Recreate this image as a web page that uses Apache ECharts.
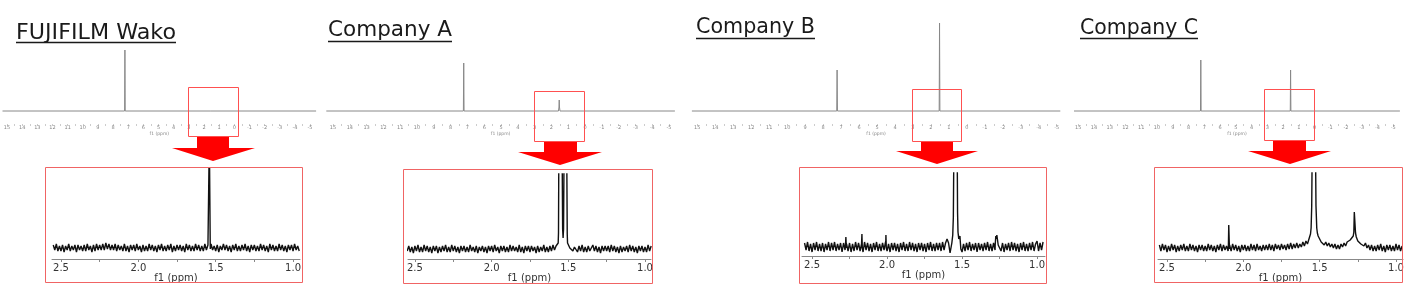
<!DOCTYPE html>
<html>
<head>
<meta charset="utf-8">
<script src="https://cdn.jsdelivr.net/npm/echarts@6/dist/echarts.min.js"></script>
<style>
html,body{margin:0;padding:0;background:#fff;}
#c{width:1409px;height:292px;}
</style>
</head>
<body>
<div id="c"></div>
<script>
// ---------- DATA ----------
const panelTitles = ['FUJIFILM Wako', 'Company A', 'Company B', 'Company C'];
const fullTickLabels = [15,14,13,12,11,10,9,8,7,6,5,4,3,2,1,0,-1,-2,-3,-4,-5];
const zoomTickLabels = [2.5, 2.0, 1.5, 1.0];
const zoomTicks = [2.5, 2.25, 2.0, 1.75, 1.5, 1.25, 1.0];
const axisName = 'f1 (ppm)';

// full spectra (ppm, intensity)
const fullWako = [[15.3,0],[7.24,0],[7.22,61],[7.20,0],[1.55,0],[1.52,1.5],[1.49,0],[-5.4,0]];
const fullA    = [[15.4,0],[7.24,0],[7.22,48],[7.20,0],[1.58,0],[1.55,4],[1.535,11],[1.52,4],[1.49,0],[-5.35,0]];
const fullB    = [[15.3,0],[7.24,0],[7.22,41],[7.20,0],[1.54,0],[1.52,88],[1.50,0],[-5.2,0]];
const fullC    = [[15.27,0],[7.24,0],[7.22,51],[7.20,0],[1.54,0],[1.52,41],[1.50,0],[-5.42,0]];

// expanded region: baseline samples from 2.55 ppm down to 0.96 ppm every 0.01 ppm
// (null = sample replaced by the sharp peak points listed separately)
const zoomStart = 2.55, zoomStep = 0.01;
const wakoBase = [
 3,-2,4,-3,2,-3,3,-4,2,-2,
 4,-3,2,-2,3,-4,3,-2,2,-3,
 3,-3,4,-2,2,-4,3,-3,4,-2,
 3,-2,4,-2,5,-1,4,-2,3,-2,
 4,-3,3,-2,2,-3,4,-3,2,-4,
 3,-2,3,-3,4,-2,2,-4,3,-3,
 2,-3,4,-2,3,-3,2,-4,3,-2,
 4,-3,2,-3,3,-2,4,-4,2,-3,
 3,-2,3,-3,2,-4,4,-2,3,-3,
 2,-3,4,-2,3,-3,2,-3,4,-2,
 3,null,4,-2,2,-3,3,-4,2,-2,
 4,-2,3,-3,2,-4,3,-2,4,-3,
 2,-3,3,-2,4,-3,2,-4,3,-2,
 3,-3,2,-3,4,-2,3,-3,2,-4,
 4,-2,3,-3,2,-3,4,-2,3,-3,
 2,-4,3,-2,3,-3,4,-2,2,-3];
const wakoPeaks = [
 [[1.543,1],[1.541,110],[1.537,110],[1.535,-1]]
];

const aBase = [
 -2,3,-3,2,-4,3,-2,4,-3,2,
 -3,4,-2,3,-3,2,-4,3,-2,3,
 -4,2,-3,3,-2,4,-3,2,-3,4,
 -2,3,-3,2,-4,3,-2,3,-3,2,
 -3,4,-2,2,-3,3,-4,2,-2,3,
 -3,2,-4,3,-2,3,-3,4,-2,2,
 -4,3,-2,3,-3,2,-3,4,-2,3,
 -2,2,-3,4,-3,2,-4,3,-2,3,
 -3,3,-2,2,-4,3,-3,2,-2,4,
 -3,2,-3,3,-2,4,-1,3,5,null,
 null,null,null,null,null,5,1,3,-2,2,
 2,-3,3,-2,4,-3,2,-3,3,-2,
 -3,4,-2,3,-3,2,-4,3,-2,3,
 -2,3,-3,4,-2,3,-3,2,-4,3,
 -3,2,-2,3,-3,4,-2,3,-3,2,
 -4,3,-2,3,-3,2,-3,4,-2,3];
const aPeaks = [
 [[1.566,6],[1.564,16],[1.562,90],[1.540,90],[1.537,20],[1.534,11],[1.531,20],[1.528,90],[1.510,90],[1.507,15],[1.505,6]]
];

const bBase = [
 4,-3,5,-4,3,-5,4,-3,5,-4,
 3,-4,4,-5,3,-3,5,-4,4,-3,
 5,-4,3,-3,4,-5,4,-3,3,-4,
 4,-5,3,-4,5,-3,4,-4,3,-5,
 5,-3,4,-4,3,-5,4,-3,5,-4,
 3,-4,4,-3,5,-4,3,-5,4,-3,
 4,-4,3,-5,4,-3,5,-4,3,-4,
 5,-3,4,-4,3,-5,4,-3,4,-4,
 3,-5,4,-3,5,-4,3,-4,4,-3,
 4,-4,5,-3,4,8,4,-6,-5,null,
 null,null,null,null,null,-5,3,-4,4,-3,
 5,-4,3,-3,4,-5,4,-3,3,-4,
 4,-3,5,-4,3,-4,4,-3,null,null,
 3,-4,4,-5,3,-3,4,-4,5,-3,
 4,-4,3,-5,4,-3,5,-4,3,-4,
 4,-3,5,-4,3,6,-4,4,-3,5];
const bPeaks = [
 [[2.277,1],[2.2745,10],[2.2725,10],[2.271,-1]],
 [[2.169,1],[2.1675,13],[2.1665,13],[2.165,-1]],
 [[2.009,1],[2.0075,12],[2.0065,12],[2.005,-1]],
 [[1.568,4],[1.562,12],[1.558,30],[1.555,90],[1.532,90],[1.530,35],[1.527,15],[1.522,8],[1.517,6],[1.514,11],[1.512,6],[1.508,-2]],
 [[1.279,2],[1.275,11],[1.272,8],[1.268,12],[1.262,11],[1.259,2]]
];

const cBase = [
 3,-3,4,-2,3,-4,2,-3,4,-2,
 3,-4,2,-3,3,-2,4,-3,2,-3,
 4,-2,3,-3,2,-4,3,-2,3,-3,
 2,-3,4,-2,3,-3,2,-4,3,-2,
 4,-3,3,-2,2,-3,3,-3,4,-2,
 3,-3,2,-4,3,-2,3,-3,2,-3,
 4,-2,3,-3,4,-2,2,-3,3,-2,
 3,-2,4,-2,3,-3,4,-1,3,-2,
 4,-1,3,-2,4,-1,5,-1,4,0,
 5,0,4,1,6,2,7,4,9,14,
 null,null,null,null,12,10,6,8,3,6,
 2,5,1,4,0,4,-1,3,-1,4,
 1,5,2,6,4,8,7,12,null,11,
 7,9,4,6,2,5,0,3,-2,3,
 -3,2,-3,3,-2,4,-3,2,-4,3,
 -2,3,-3,2,-3,4,-2,3,-3,2];
const cPeaks = [
 [[2.098,0],[2.0955,23],[2.0935,23],[2.091,-1]],
 [[1.556,20],[1.552,42],[1.549,95],[1.527,95],[1.524,42],[1.519,20],[1.515,15]],
 [[1.276,16],[1.273,36],[1.269,36],[1.265,15]]
];

// ---------- BUILD ----------
function buildZoom(base, peaks) {
  const pts = [];
  base.forEach((v, i) => { if (v !== null) pts.push([+(zoomStart - i * zoomStep).toFixed(3), v]); });
  peaks.forEach(g => g.forEach(p => pts.push(p)));
  pts.sort((a, b) => b[0] - a[0]);
  return pts;
}

const FONT = 'DejaVu Sans';
const halfTicks = [];
for (let v = 15; v >= -5; v -= 0.5) halfTicks.push(v);

// layout (pixels)
const fullLayout = [
  {left: 2.5,    width: 313.6, min: -5.4,  max: 15.3},
  {left: 326.3,  width: 348.6, min: -5.35, max: 15.4},
  {left: 691.9,  width: 368.4, min: -5.2,  max: 15.3},
  {left: 1074,   width: 325.9, min: -5.42, max: 15.27}
];
const zoomLayout = [
  {left: 52,   width: 248, top: 168, height: 91, min: 0.955, max: 2.558, ymin: -11, ymax: 80},
  {left: 408,  width: 243, top: 174, height: 85, min: 0.961, max: 2.545, ymin: -10, ymax: 75},
  {left: 802,  width: 243, top: 173, height: 83, min: 0.947, max: 2.567, ymin: -9,  ymax: 74},
  {left: 1158, width: 245, top: 173, height: 86, min: 0.954, max: 2.559, ymin: -11, ymax: 75}
];
const fullData = [fullWako, fullA, fullB, fullC];
const zoomData = [buildZoom(wakoBase, wakoPeaks), buildZoom(aBase, aPeaks), buildZoom(bBase, bPeaks), buildZoom(cBase, cPeaks)];

const grids = [], xAxes = [], yAxes = [], series = [];
fullLayout.forEach((L, i) => {
  grids.push({left: L.left, width: L.width, top: 20, height: 104});
  xAxes.push({
    gridIndex: i, type: 'value', inverse: true, min: L.min, max: L.max,
    axisLine: {show: false, onZero: false}, splitLine: {show: false},
    axisTick: {show: true, customValues: halfTicks, length: 2, lineStyle: {color: '#aaa', width: 0.6}},
    axisLabel: {customValues: fullTickLabels, fontSize: 5, color: '#888', margin: 1, fontFamily: FONT, formatter: v => String(v)},
    name: axisName, nameLocation: 'middle', nameGap: 6,
    nameTextStyle: {fontSize: 4.5, color: '#888', fontFamily: FONT}
  });
  yAxes.push({gridIndex: i, type: 'value', min: -13, max: 91, show: false});
  series.push({type: 'line', xAxisIndex: i, yAxisIndex: i, data: fullData[i], showSymbol: false, silent: true,
    lineStyle: {color: '#888', width: 1}});
});
zoomLayout.forEach((L, k) => {
  const i = k + 4;
  grids.push({left: L.left, width: L.width, top: L.top, height: L.height});
  xAxes.push({
    gridIndex: i, type: 'value', inverse: true, min: L.min, max: L.max,
    axisLine: {show: true, onZero: false, lineStyle: {color: '#888', width: 1}}, splitLine: {show: false},
    axisTick: {show: true, customValues: zoomTicks, length: 3, lineStyle: {color: '#888'}},
    axisLabel: {customValues: zoomTickLabels, fontSize: 10, color: '#333', margin: 4, fontFamily: FONT, formatter: v => v.toFixed(1)},
    name: axisName, nameLocation: 'middle', nameGap: 12,
    nameTextStyle: {fontSize: 10, color: '#333', fontFamily: FONT}
  });
  yAxes.push({gridIndex: i, type: 'value', min: L.ymin, max: L.ymax, show: false});
  series.push({type: 'line', xAxisIndex: i, yAxisIndex: i, data: zoomData[k], showSymbol: false, silent: true,
    clip: true, lineStyle: {color: '#111', width: 1.4}});
});

// graphics: titles, underlines, red boxes, arrows, zoom frames
const titlePos = [{x: 16, y: 34, u: 42.5, w: 160}, {x: 328, y: 31, u: 41.5, w: 124}, {x: 696, y: 28, u: 38.5, w: 119}, {x: 1080, y: 29, u: 38.5, w: 118}];
const TITLE_FONT = '21px "DejaVu Sans"';
const mctx = document.createElement('canvas').getContext('2d');
mctx.font = TITLE_FONT;
const graphic = [];
panelTitles.forEach((t, i) => {
  const p = titlePos[i];
  const w = mctx.measureText(t).width;
  const sx = p.w / w;
  graphic.push({type: 'text', x: p.x, y: p.y, scaleX: sx, style: {text: t, x: 0, y: 0, font: TITLE_FONT, fill: '#1a1a1a', textVerticalAlign: 'middle', verticalAlign: 'middle'}});
  graphic.push({type: 'line', shape: {x1: p.x, y1: p.u, x2: p.x + p.w, y2: p.u}, style: {stroke: '#1a1a1a', lineWidth: 1.5}});
});
const redBoxes = [[188.5, 87.5, 50, 49], [534.5, 91.5, 50, 50], [912.5, 89.5, 49, 52], [1264.5, 89.5, 50, 51]];
redBoxes.forEach(b => graphic.push({type: 'rect', z: 10, shape: {x: b[0], y: b[1], width: b[2], height: b[3]}, style: {fill: 'none', stroke: '#ff5050', lineWidth: 1}}));
const arrows = [
  [[197,137],[229,137],[229,148],[255,148],[213,161],[172,148],[197,148]],
  [[544,142],[577,142],[577,152],[602,152],[560,165],[518,152],[544,152]],
  [[921,142],[953,142],[953,151],[978,151],[937,164],[896,151],[921,151]],
  [[1273,141],[1306,141],[1306,151],[1331,151],[1290,164],[1248,151],[1273,151]]
];
arrows.forEach(a => graphic.push({type: 'polygon', z: 10, shape: {points: a}, style: {fill: '#ff0000'}}));
const frames = [[45.5, 167.5, 257, 115], [403.5, 169.5, 249, 114], [799.5, 167.5, 247, 116], [1154.5, 167.5, 248, 115]];
frames.forEach(b => graphic.push({type: 'rect', z: 10, shape: {x: b[0], y: b[1], width: b[2], height: b[3]}, style: {fill: 'none', stroke: '#f06464', lineWidth: 1}}));

const chart = echarts.init(document.getElementById('c'), null, {renderer: 'canvas'});
chart.setOption({
  animation: false,
  backgroundColor: '#fff',
  textStyle: {fontFamily: FONT},
  grid: grids, xAxis: xAxes, yAxis: yAxes, series: series, graphic: graphic
});
</script>
</body>
</html>
